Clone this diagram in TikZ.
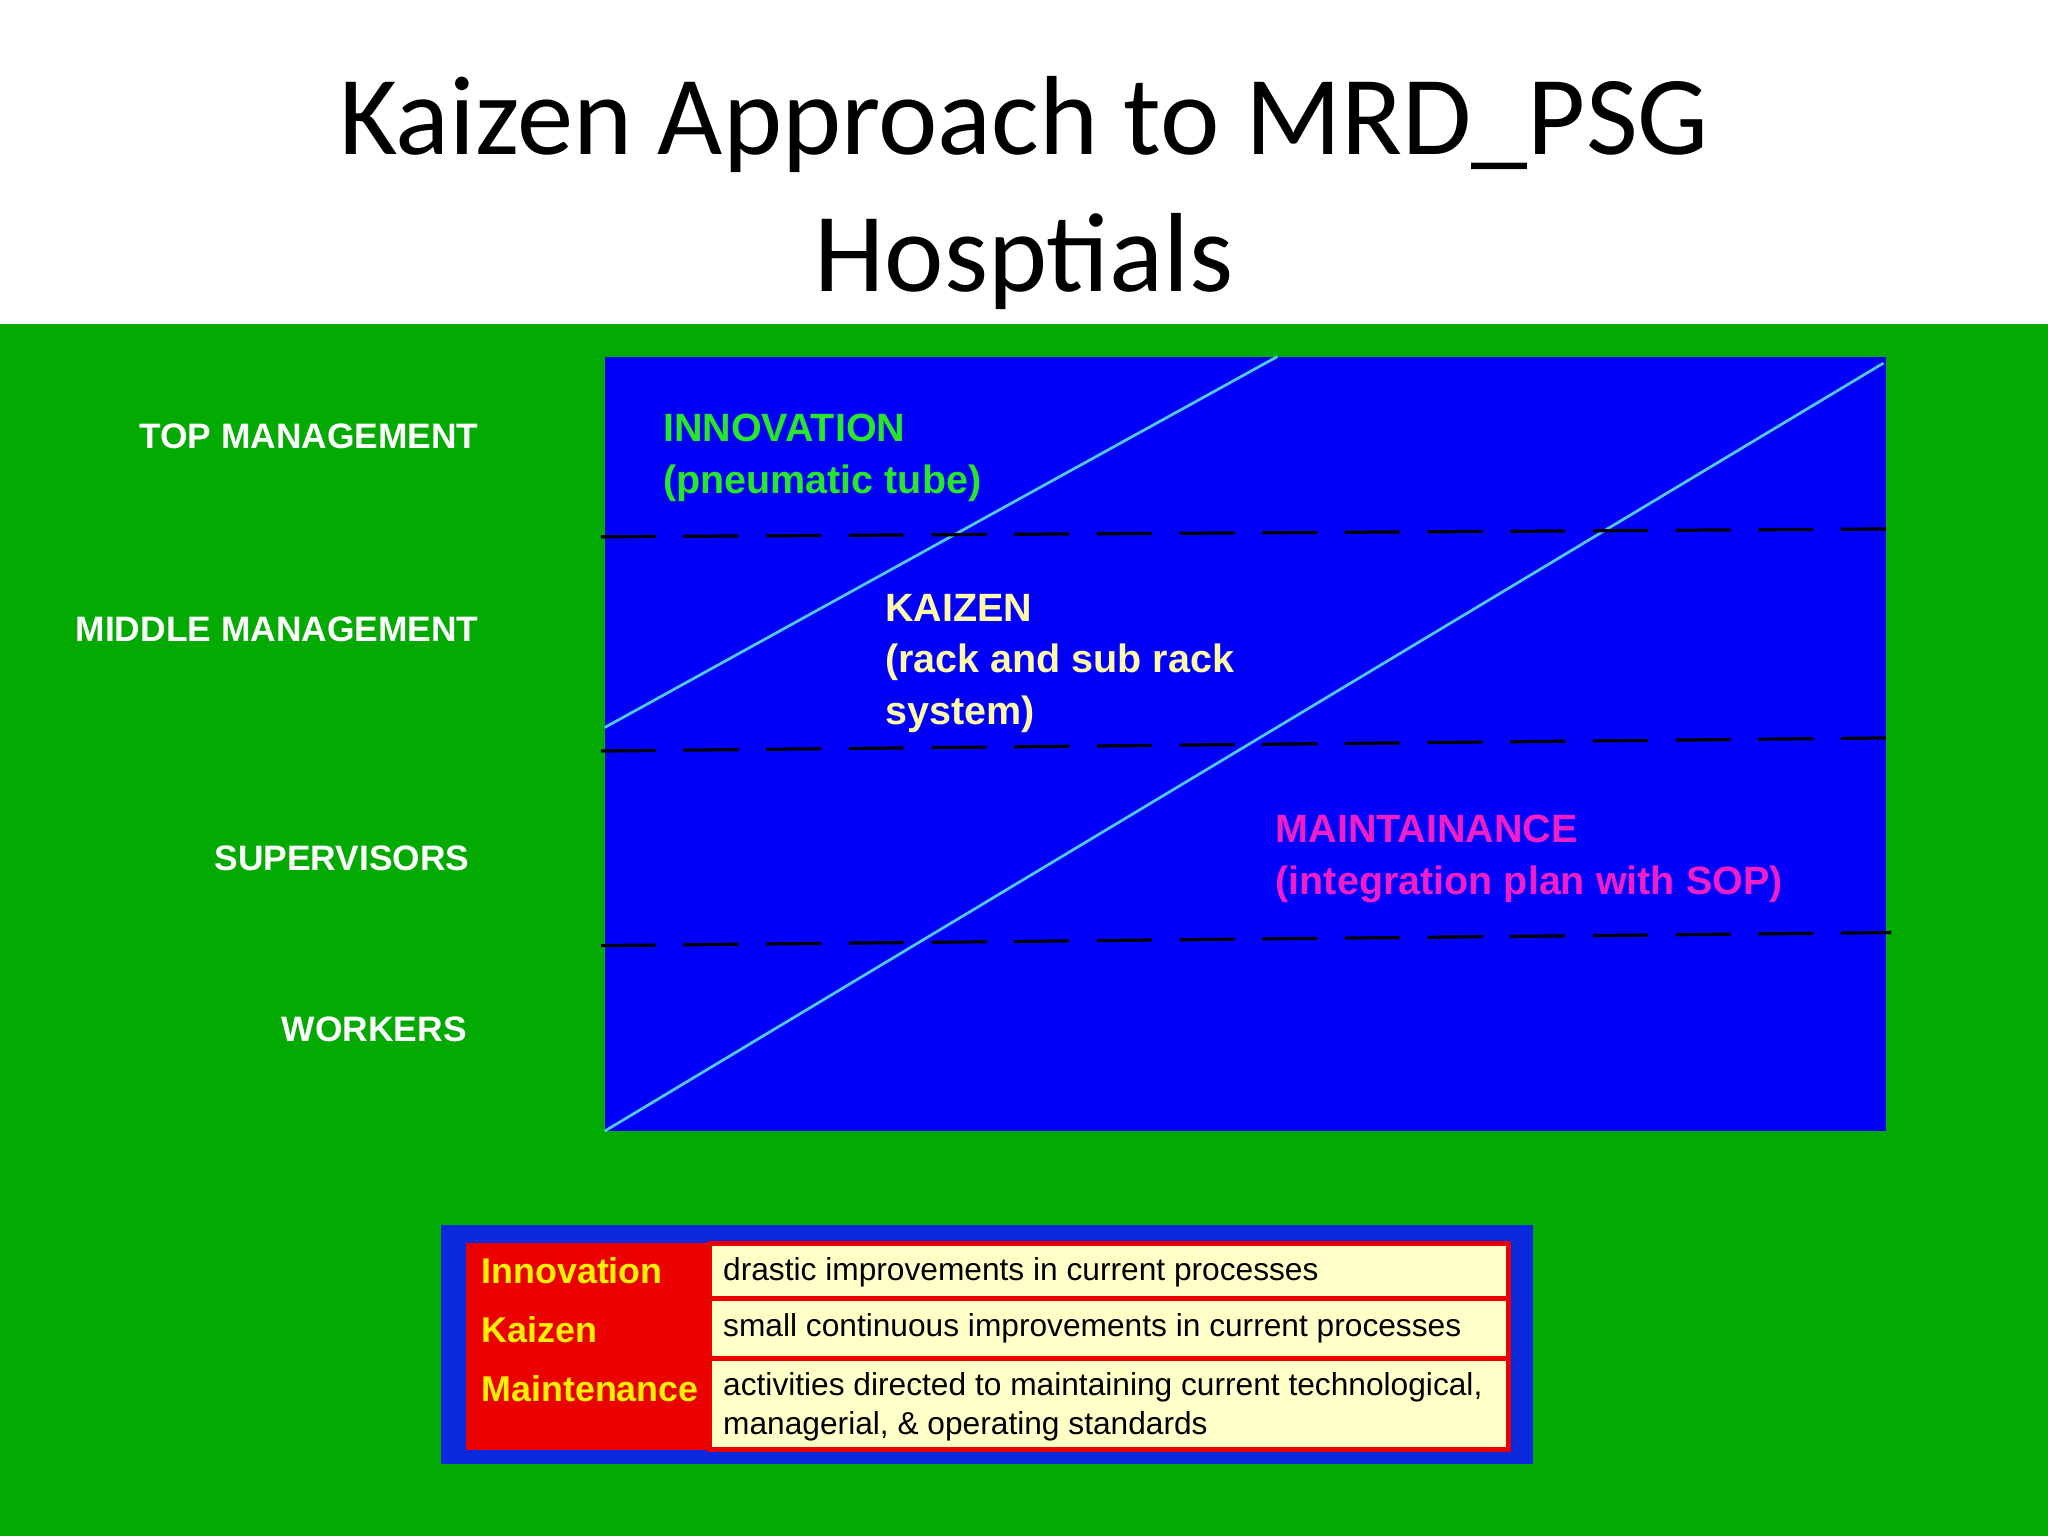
\documentclass[tikz,border=0pt]{standalone}
\usepackage{fontspec}
\setmainfont{Carlito}
\newfontfamily\lab{Liberation Sans}
\definecolor{bggreen}{RGB}{2,170,2}
\definecolor{bblue}{RGB}{0,0,250}
\definecolor{lblue}{RGB}{10,40,220}
\definecolor{cyanl}{RGB}{80,200,230}
\definecolor{ingreen}{RGB}{40,230,40}
\definecolor{kyel}{RGB}{255,250,170}
\definecolor{mmag}{RGB}{240,30,200}
\definecolor{lred}{RGB}{235,0,0}
\definecolor{lyel}{RGB}{255,255,200}
\definecolor{tyel}{RGB}{255,240,0}
\begin{document}
\begin{tikzpicture}[x=0.01cm,y=-0.01cm,
  lvl/.style={anchor=east,font=\lab\bfseries\fontsize{7.7}{9}\selectfont,text=white,inner sep=0},
  dl/.style={black,dash pattern=on 12pt off 6pt,line width=0.7pt},
  cl/.style={cyanl,line width=0.6pt},
  blk/.style={anchor=north west,align=left,font=\lab\bfseries\fontsize{8.6}{11.3}\selectfont,inner sep=0},
  lk/.style={anchor=west,font=\lab\bfseries\fontsize{7.8}{9}\selectfont,text=tyel,inner sep=0},
  lt/.style={anchor=north west,align=left,font=\lab\fontsize{6.9}{8.6}\selectfont,inner sep=0},
  cell/.style={fill=lyel,draw=lred,line width=1pt}]
\useasboundingbox (0,0) rectangle (1568,1176);
\fill[white] (0,0) rectangle (1568,248);
\fill[bggreen] (0,248) rectangle (1568,1176);
\node[font=\fontsize{24.5}{29.8}\selectfont,align=center] (title) at (784,148) {Kaizen Approach to MRD\_PSG\\Hosptials};
\fill[bblue] (463,273) rectangle (1444,866);
\draw[cl] (463,557) -- (978,273);
\draw[cl] (463,866) -- (1442,278);
\draw[dl] (460,411) -- (1444,405);
\draw[dl] (460,575) -- (1444,565);
\draw[dl] (460,724) -- (1448,714);
\node[lvl] (top) at (367,334) {TOP MANAGEMENT};
\node[lvl] (mid) at (367,482) {MIDDLE MANAGEMENT};
\node[lvl] (sup) at (360,657) {SUPERVISORS};
\node[lvl] (wrk) at (358,788) {WORKERS};
\node[blk,text=ingreen] (inn) at (507,316) {INNOVATION\\(pneumatic tube)};
\node[blk,text=kyel] (kai) at (677,454) {KAIZEN\\(rack and sub rack\\system)};
\node[blk,text=mmag] (mai) at (976,623) {MAINTAINANCE\\(integration plan with SOP)};
\fill[lblue] (338,938) rectangle (1174,1121);
\fill[lred] (357,952) rectangle (1156,1110);
\draw[cell] (543,952) rectangle (1155,994);
\draw[cell] (543,994) rectangle (1155,1040);
\draw[cell] (543,1040) rectangle (1155,1110);
\node[lk] (l1) at (368,973) {Innovation};
\node[lk] (l2) at (368,1018) {Kaizen};
\node[lk] (l3) at (368,1063) {Maintenance};
\node[lt] (d1) at (553,962) {drastic improvements in current processes};
\node[lt] (d2) at (553,1005) {small continuous improvements in current processes};
\node[lt] (d3) at (553,1050) {activities directed to maintaining current technological,\\managerial, \& operating standards};
\end{tikzpicture}
\end{document}
